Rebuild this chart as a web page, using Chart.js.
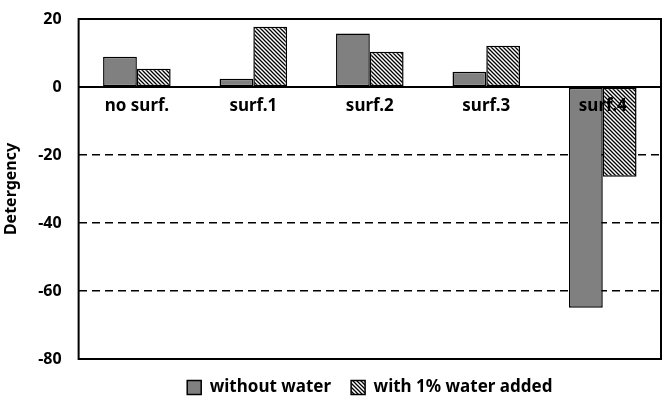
<!DOCTYPE html>
<html>
<head>
<meta charset="utf-8">
<script src="https://cdn.jsdelivr.net/npm/chart.js@4.4.0/dist/chart.umd.min.js"></script>
<style>
  html, body { margin: 0; padding: 0; background: #fff; }
  #wrap { width: 668px; height: 400px; }
</style>
</head>
<body>
<div id="wrap"><canvas id="detChart"></canvas></div>
<script>
const categories = ["no surf.", "surf.1", "surf.2", "surf.3", "surf.4"];
const withoutWater = [8.9, 2.4, 15.7, 4.5, -64.9];
const withWater = [5.4, 17.7, 10.4, 12.1, -26.4];
const seriesNames = ["without water", "with 1% water added"];
const yTicks = [20, 0, -20, -40, -60, -80];

// hatch pattern for the second series
function makeHatch() {
    const s = 4;
    const c = document.createElement("canvas");
    c.width = s;
    c.height = s;
    const g = c.getContext("2d");
    g.fillStyle = "#ffffff";
    g.fillRect(0, 0, s, s);
    g.strokeStyle = "#000000";
    g.lineWidth = 1.3;
    g.beginPath();
    g.moveTo(0, 0); g.lineTo(s, s);
    g.moveTo(-1, s - 1); g.lineTo(1, s + 1);
    g.moveTo(s - 1, -1); g.lineTo(s + 1, 1);
    g.stroke();
    return g.createPattern(c, "repeat");
}

// solid frame round the plot area
const framePlugin = {
    id: "frame",
    afterDraw(chart) {
        const a = chart.chartArea;
        const ctx = chart.ctx;
        ctx.save();
        ctx.strokeStyle = "#000";
        ctx.lineWidth = 2;
        ctx.strokeRect(a.left, a.top, a.right - a.left, a.bottom - a.top);
        ctx.restore();
    }
};

const font = { family: "'Noto Sans', sans-serif", size: 17, weight: "bold" };
const tickFont = { family: "'Noto Sans', sans-serif", size: 16, weight: "bold" };

new Chart(document.getElementById("detChart"), {
    type: "bar",
    data: {
        labels: categories,
        datasets: [{
            label: seriesNames[0],
            data: withoutWater,
            backgroundColor: "#808080",
            borderColor: "#000",
            borderWidth: 1.5,
            borderSkipped: false
        }, {
            label: seriesNames[1],
            data: withWater,
            backgroundColor: makeHatch(),
            borderColor: "#000",
            borderWidth: 1.5,
            borderSkipped: false
        }]
    },
    plugins: [framePlugin],
    options: {
        responsive: true,
        maintainAspectRatio: false,
        animation: false,
        categoryPercentage: 0.58,
        barPercentage: 1.0,
        layout: { padding: { top: 19, right: 7, left: 2, bottom: -6 } },
        plugins: {
            tooltip: { enabled: false },
            legend: {
                position: "bottom",
                fullSize: false,
                labels: {
                    color: "#000",
                    font: font,
                    boxWidth: 14,
                    boxHeight: 14,
                    padding: 20
                }
            }
        },
        scales: {
            x: {
                position: { y: 0 },
                grid: { display: false },
                border: { display: true, color: "#000", width: 2 },
                ticks: { color: "#000", font: font, padding: 1, maxRotation: 0, autoSkip: false, z: 1 }
            },
            y: {
                min: -80,
                max: 20,
                afterBuildTicks(axis) {
                    axis.ticks = yTicks.map(v => ({ value: v }));
                },
                afterFit(axis) {
                    // tick padding should only push labels sideways
                    axis.paddingTop = 10;
                    axis.paddingBottom = 10;
                },
                grid: {
                    drawTicks: false,
                    lineWidth: 1.5,
                    color: ctx => (ctx.tick && [-20, -40, -60].includes(ctx.tick.value)) ? "#000" : "rgba(0,0,0,0)"
                },
                border: { display: false, dash: [8, 5] },
                ticks: { color: "#000", font: tickFont, padding: 17 },
                title: { display: true, text: "Detergency", color: "#000", font: tickFont, padding: 0 }
            }
        }
    }
});
</script>
</body>
</html>
